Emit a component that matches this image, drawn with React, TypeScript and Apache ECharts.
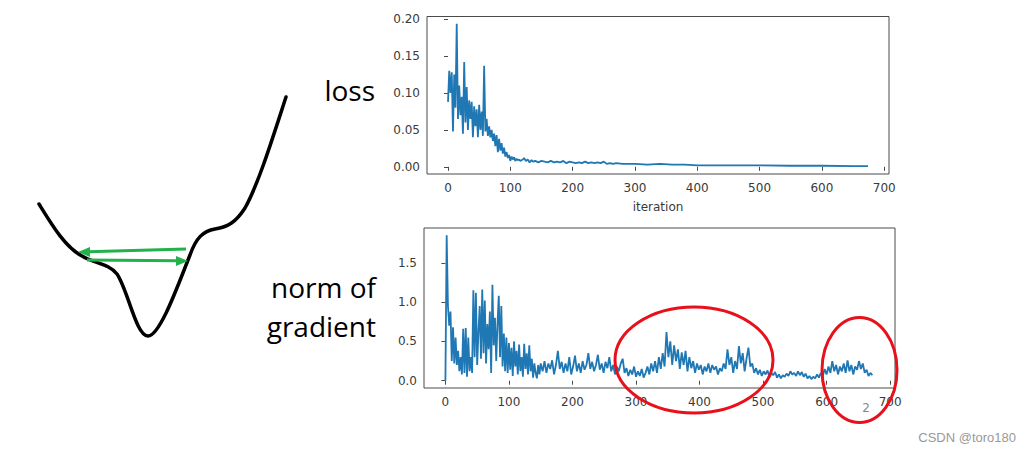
import React, { useEffect, useRef } from "react";
import * as echarts from "echarts";

// ---- data ----
const xTicks = [0, 100, 200, 300, 400, 500, 600, 700];
const lossTicks = [0, 0.05, 0.1, 0.15, 0.2];
const gradTicks = [0, 0.5, 1.0, 1.5];

const lossPoints: [number, number][] = [
  [0, 0.088], [2, 0.13], [4, 0.1], [6, 0.128], [8, 0.048], [10, 0.125], [12, 0.08], [14, 0.194],
  [16, 0.065], [18, 0.11], [20, 0.07], [22, 0.095], [24, 0.045], [26, 0.142], [28, 0.06], [30, 0.108],
  [32, 0.05], [34, 0.09], [36, 0.065], [38, 0.088], [40, 0.04], [42, 0.082], [44, 0.055], [46, 0.078],
  [48, 0.04], [50, 0.084], [52, 0.05], [54, 0.075], [56, 0.042], [58, 0.137], [60, 0.048], [62, 0.065],
  [64, 0.042], [66, 0.055], [68, 0.04], [70, 0.05], [72, 0.035], [74, 0.045], [76, 0.028], [78, 0.043],
  [80, 0.02], [82, 0.038], [84, 0.022], [86, 0.032], [88, 0.018], [90, 0.026], [92, 0.014], [94, 0.02],
  [96, 0.012], [98, 0.016], [100, 0.008], [102, 0.014], [104, 0.01], [106, 0.013], [108, 0.008],
  [110, 0.011], [112, 0.009], [114, 0.01], [116, 0.008], [118, 0.009], [120, 0.01], [122, 0.012],
  [125, 0.008], [128, 0.01], [131, 0.006], [134, 0.009], [137, 0.007], [140, 0.008], [145, 0.006],
  [150, 0.008], [155, 0.007], [160, 0.006], [165, 0.008], [170, 0.006], [175, 0.007], [180, 0.006],
  [185, 0.008], [190, 0.005], [195, 0.007], [200, 0.006], [205, 0.005], [210, 0.006], [215, 0.005],
  [220, 0.007], [225, 0.005], [230, 0.006], [235, 0.005], [240, 0.006], [245, 0.005], [250, 0.007],
  [255, 0.004], [260, 0.005], [265, 0.004], [270, 0.005], [280, 0.004], [290, 0.004], [300, 0.004],
  [320, 0.003], [340, 0.004], [360, 0.003], [380, 0.003], [400, 0.002], [430, 0.002], [460, 0.002],
  [500, 0.002], [550, 0.0015], [600, 0.0015], [650, 0.001], [674, 0.001],
];

const gradPointsEarly: [number, number][] = [
  [0, 0.0], [2, 1.85], [4, 0.95], [6, 0.7], [8, 0.88], [10, 0.25], [12, 0.68], [14, 0.22], [16, 0.55],
  [18, 0.2], [20, 0.38], [22, 0.12], [24, 0.3], [26, 0.08], [28, 0.66], [30, 0.1], [32, 0.67], [34, 0.05],
  [36, 0.55], [38, 0.12], [40, 0.3], [42, 0.1], [44, 1.15], [46, 0.3], [48, 1.12], [50, 0.2], [52, 0.62],
  [54, 0.95], [56, 0.28], [58, 1.16], [60, 0.35], [62, 1.02], [64, 0.22], [66, 0.72], [68, 0.4], [70, 0.88],
  [72, 0.1], [74, 1.22], [76, 0.45], [78, 0.8], [80, 0.25], [82, 0.72], [84, 1.08], [86, 0.3], [88, 0.95],
  [90, 0.18], [92, 0.6], [94, 0.12], [96, 0.55], [98, 0.1], [100, 0.48], [102, 0.14], [104, 0.42],
  [106, 0.06], [108, 0.5], [110, 0.18], [112, 0.38], [114, 0.08], [116, 0.46], [118, 0.12], [120, 0.3],
  [122, 0.05], [124, 0.47], [126, 0.15], [128, 0.35], [130, 0.08], [132, 0.45], [134, 0.12], [136, 0.28],
  [138, 0.04], [140, 0.22], [142, 0.1], [144, 0.03], [146, 0.2], [148, 0.08], [150, 0.22],
];

const gradPointsMid: [number, number][] = [
  [153, 0.12], [156, 0.25], [159, 0.1], [162, 0.22], [165, 0.15], [168, 0.26], [171, 0.08], [174, 0.2],
  [177, 0.38], [180, 0.15], [183, 0.24], [186, 0.1], [189, 0.22], [192, 0.12], [195, 0.3], [198, 0.08],
  [201, 0.18], [204, 0.32], [207, 0.12], [210, 0.22], [213, 0.1], [216, 0.25], [219, 0.14], [222, 0.2],
  [225, 0.35], [228, 0.15], [231, 0.24], [234, 0.12], [237, 0.2], [240, 0.33], [243, 0.14], [246, 0.22],
  [249, 0.1], [252, 0.24], [255, 0.16], [258, 0.3], [261, 0.12], [264, 0.2], [267, 0.08], [270, 0.18],
  [273, 0.12], [276, 0.22], [279, 0.28], [282, 0.1], [285, 0.16], [288, 0.06], [291, 0.14], [294, 0.08],
  [297, 0.18], [300, 0.05], [303, 0.12], [306, 0.06], [309, 0.15], [312, 0.04], [315, 0.1], [318, 0.18],
  [321, 0.08], [324, 0.22], [327, 0.12], [330, 0.25], [333, 0.1], [336, 0.3], [339, 0.15], [342, 0.35],
  [345, 0.18], [348, 0.62], [351, 0.3], [354, 0.5], [357, 0.2], [360, 0.45], [363, 0.25], [366, 0.4],
  [369, 0.15], [372, 0.36], [375, 0.2], [378, 0.38], [381, 0.12], [384, 0.3], [387, 0.16], [390, 0.25],
  [393, 0.1], [396, 0.22], [399, 0.14], [402, 0.2], [405, 0.08], [408, 0.18], [411, 0.12], [414, 0.22],
  [417, 0.1], [420, 0.2], [423, 0.14], [426, 0.18], [429, 0.08], [432, 0.16], [435, 0.12], [438, 0.22],
  [441, 0.15], [444, 0.4], [447, 0.2], [450, 0.3], [453, 0.1], [456, 0.25], [459, 0.15], [462, 0.44],
  [465, 0.22], [468, 0.35], [471, 0.12], [474, 0.28], [477, 0.42], [480, 0.18], [483, 0.22], [486, 0.1],
];

const gradPointsLate: [number, number][] = [
  [489, 0.16], [492, 0.08], [495, 0.14], [498, 0.06], [501, 0.12], [504, 0.08], [507, 0.13], [510, 0.05],
  [513, 0.1], [516, 0.07], [519, 0.11], [522, 0.04], [525, 0.08], [528, 0.03], [531, 0.07], [534, 0.05],
  [537, 0.09], [540, 0.06], [543, 0.12], [546, 0.08], [549, 0.1], [552, 0.06], [555, 0.12], [558, 0.07],
  [561, 0.11], [564, 0.05], [567, 0.09], [570, 0.03], [573, 0.06], [576, 0.02], [579, 0.05], [582, 0.03],
  [585, 0.08], [588, 0.04], [591, 0.1], [594, 0.06], [597, 0.15], [600, 0.08], [603, 0.18], [606, 0.1],
  [609, 0.25], [612, 0.12], [615, 0.2], [618, 0.08], [621, 0.18], [624, 0.12], [627, 0.22], [630, 0.1],
  [633, 0.26], [636, 0.12], [639, 0.2], [642, 0.08], [645, 0.18], [648, 0.14], [651, 0.25], [654, 0.15],
  [657, 0.22], [660, 0.1], [663, 0.14], [666, 0.06], [669, 0.1], [672, 0.07],
];

const curvePath =
  "M39,204 C52,225 65,247 82,256 C95,264 108,263 117,274 C128,290 136,336 148,336 C160,336 178,285 190,255 C196,238 203,231 215,229 C228,227 236,222 245,208 C258,185 272,140 286,97";

echarts.graphic.registerShape("lossCurve", echarts.graphic.extendPath(curvePath, {}));

const BLUE = "#1f77b4";
const AXIS = "#4a4a4a";
const GREEN = "#22b14c";
const RED = "#e8101a";
const TICK_FONT = "DejaVu Sans";
const LABEL_COLOR = "#3a3a3a";

function xAxisCfg(gridIndex: number, name?: string) {
  return {
    type: "value",
    gridIndex,
    min: -33.7,
    max: 707.7,
    name: name || "",
    nameLocation: "middle",
    nameGap: 27,
    nameTextStyle: { color: LABEL_COLOR, fontFamily: TICK_FONT, fontSize: 12 },
    axisLine: { show: false },
    axisTick: { show: true, inside: false, length: 4, customValues: xTicks, lineStyle: { color: AXIS } },
    axisLabel: { customValues: xTicks, color: LABEL_COLOR, fontFamily: TICK_FONT, fontSize: 12, margin: 8 },
    splitLine: { show: false },
  };
}

function yAxisCfg(gridIndex: number, min: number, max: number, ticks: number[], digits: number) {
  return {
    type: "value",
    gridIndex,
    min,
    max,
    axisLine: { show: false },
    axisTick: { show: true, inside: false, length: 4, customValues: ticks, lineStyle: { color: AXIS } },
    axisLabel: {
      customValues: ticks,
      color: LABEL_COLOR,
      fontFamily: TICK_FONT,
      fontSize: 12,
      margin: 7,
      formatter: (v: number) => v.toFixed(digits),
    },
    splitLine: { show: false },
  };
}

export default function App() {
  const ref = useRef<HTMLDivElement>(null);
  useEffect(() => {
    if (!ref.current) return;
    const chart = echarts.init(ref.current, null, { renderer: "svg" });
    const gradAll = [...gradPointsEarly, ...gradPointsMid, ...gradPointsLate];
    chart.setOption({
      animation: false,
      backgroundColor: "#ffffff",
      grid: [
        { left: 427, top: 16.5, width: 462, height: 157.5, show: true, borderColor: AXIS, borderWidth: 1, outerBoundsMode: "none" },
        { left: 424, top: 228, width: 471, height: 160, show: true, borderColor: AXIS, borderWidth: 1, outerBoundsMode: "none" },
      ],
      xAxis: [xAxisCfg(0, "iteration"), xAxisCfg(1)],
      yAxis: [
        yAxisCfg(0, -0.0097, 0.2037, lossTicks, 2),
        yAxisCfg(1, -0.0925, 1.9425, gradTicks, 1),
      ],
      series: [
        {
          type: "line",
          xAxisIndex: 0,
          yAxisIndex: 0,
          data: lossPoints,
          showSymbol: false,
          lineStyle: { color: BLUE, width: 1.8 },
          itemStyle: { color: BLUE },
        },
        {
          type: "line",
          xAxisIndex: 1,
          yAxisIndex: 1,
          data: gradAll,
          showSymbol: false,
          lineStyle: { color: BLUE, width: 1.8 },
          itemStyle: { color: BLUE },
        },
      ],
      graphic: [
        { type: "lossCurve", x: 0, y: 0, z: 50, style: { fill: "none", stroke: "#000", lineWidth: 3.5, lineCap: "round", lineJoin: "round" } },
        { type: "line", z: 50, shape: { x1: 186, y1: 249, x2: 88, y2: 251.7 }, style: { stroke: GREEN, lineWidth: 3 } },
        { type: "polygon", z: 50, shape: { points: [[78, 252], [90, 247], [90, 257]] }, style: { fill: GREEN } },
        { type: "line", z: 50, shape: { x1: 87, y1: 260, x2: 178, y2: 260.7 }, style: { stroke: GREEN, lineWidth: 3 } },
        { type: "polygon", z: 50, shape: { points: [[188, 261], [176, 256], [176, 266]] }, style: { fill: GREEN } },
        { type: "text", z: 50, x: 375, y: 90, style: { text: "loss", font: "28px 'Open Sans'", fill: "#000", textAlign: "right", textVerticalAlign: "middle" } },
        { type: "text", z: 50, x: 376, y: 287, style: { text: "norm of", font: "28px 'Open Sans'", fill: "#000", textAlign: "right", textVerticalAlign: "middle" } },
        { type: "text", z: 50, x: 376, y: 326, style: { text: "gradient", font: "28px 'Open Sans'", fill: "#000", textAlign: "right", textVerticalAlign: "middle" } },
        { type: "ellipse", z: 60, shape: { cx: 694, cy: 360, rx: 79, ry: 53 }, style: { fill: "none", stroke: RED, lineWidth: 3 } },
        { type: "ellipse", z: 60, shape: { cx: 859.5, cy: 370, rx: 37.5, ry: 52.5 }, style: { fill: "none", stroke: RED, lineWidth: 3 } },
        { type: "text", z: 60, x: 866, y: 408, style: { text: "2", font: "12px 'DejaVu Sans'", fill: "#888", textAlign: "center", textVerticalAlign: "middle" } },
        { type: "text", z: 60, x: 1016, y: 437, style: { text: "CSDN @toro180", font: "13px 'Liberation Sans'", fill: "#999", textAlign: "right", textVerticalAlign: "middle" } },
      ],
    });
    return () => chart.dispose();
  }, []);
  return <div ref={ref} style={{ position: "fixed", left: 0, top: 0, width: 1031, height: 450 }} />;
}
